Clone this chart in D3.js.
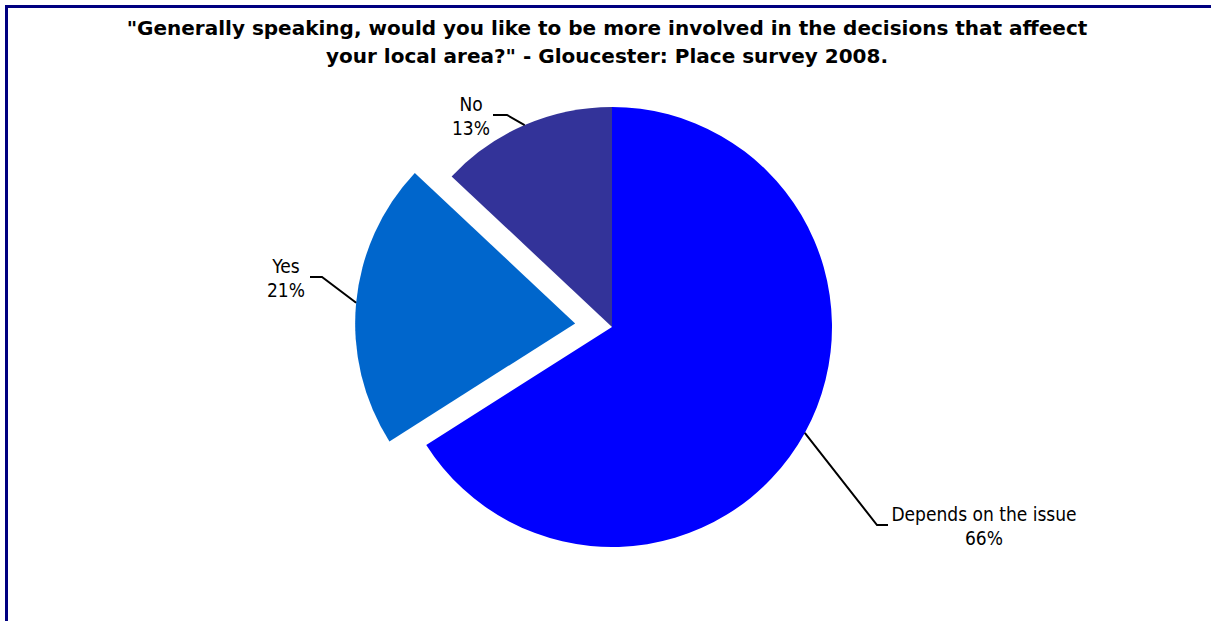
<!DOCTYPE html>
<html>
<head>
<meta charset="utf-8">
<script src="https://cdn.jsdelivr.net/npm/d3@7"></script>
<style>
  html, body { margin: 0; padding: 0; background: #fff; overflow: hidden; }
  svg { display: block; }
</style>
</head>
<body>
<svg id="chart" width="1211" height="621"></svg>
<script>
// Survey responses (percent of respondents)
const categories = ["Depends on the issue", "Yes", "No"];
const values = [66, 21, 13];
const percentLabels = ["66%", "21%", "13%"];
const sliceColors = ["#0000FF", "#0066CC", "#333399"];
const titleLines = [
  "\"Generally speaking, would you like to be more involved in the decisions that affeect",
  "your local area?\" - Gloucester: Place survey 2008."
];

const W = 1211, H = 621;
const cx = 612, cy = 327, radius = 220;
const explodeOffset = 37;          // the "Yes" slice is pulled out
const exploded = new Set(["Yes"]);

// Label elbows relative to the pie centre: where the leader line bends,
// how long its horizontal tail is, and where the label block is centred.
const labelLayout = {
  "Depends on the issue": { ex: 265, ey: 198, tail: 11, tx: 372 },
  "Yes": { ex: -290, ey: -50, tail: -12, tx: -326 },
  "No": { ex: -105, ey: -212, tail: -14, tx: -141 }
};

const svg = d3.select("#chart");
const labelFont = "Tahoma, 'DejaVu Sans Condensed', 'DejaVu Sans', sans-serif";
const titleFont = "Tahoma, 'DejaVu Sans', sans-serif";

// Chart frame
svg.append("rect")
  .attr("x", 6.5).attr("y", 6.5)
  .attr("width", W + 50).attr("height", H + 50)
  .attr("fill", "#fff")
  .attr("stroke", "#000080")
  .attr("stroke-width", 3);

// Title
svg.append("text")
  .attr("font-family", titleFont)
  .attr("font-weight", "bold")
  .attr("font-size", 20)
  .attr("text-anchor", "middle")
  .attr("fill", "#000")
  .selectAll("tspan")
  .data(titleLines)
  .join("tspan")
  .attr("x", 607)
  .attr("y", (d, i) => 35 + i * 28)
  .text(d => d);

const data = categories.map((c, i) => ({ category: c, value: values[i], label: percentLabels[i], color: sliceColors[i] }));

const pie = d3.pie().sort(null).value(d => d.value);
const arcs = pie(data);
const arc = d3.arc().innerRadius(0).outerRadius(radius);

const g = svg.append("g").attr("transform", `translate(${cx},${cy})`);

function offsetOf(a) {
  if (!exploded.has(a.data.category)) return [0, 0];
  const mid = (a.startAngle + a.endAngle) / 2;
  return [Math.sin(mid) * explodeOffset, -Math.cos(mid) * explodeOffset];
}

g.selectAll("path.slice")
  .data(arcs)
  .join("path")
  .attr("class", "slice")
  .attr("d", arc)
  .attr("fill", d => d.data.color)
  .attr("transform", d => { const [ox, oy] = offsetOf(d); return `translate(${ox},${oy})`; });

// Leader lines: from slice edge at its mid-angle, to the elbow, then a short horizontal tail
g.selectAll("path.leader")
  .data(arcs)
  .join("path")
  .attr("class", "leader")
  .attr("fill", "none")
  .attr("stroke", "#000")
  .attr("stroke-width", 2)
  .attr("d", d => {
    const mid = (d.startAngle + d.endAngle) / 2;
    const [ox, oy] = offsetOf(d);
    const sx = ox + Math.sin(mid) * radius, sy = oy - Math.cos(mid) * radius;
    const L = labelLayout[d.data.category];
    return d3.line()([[sx, sy], [L.ex, L.ey], [L.ex + L.tail, L.ey]]);
  });

// Data labels: category name over percentage
const labels = g.selectAll("text.label")
  .data(arcs)
  .join("text")
  .attr("class", "label")
  .attr("font-family", labelFont)
  .attr("font-size", 19)
  .attr("text-anchor", "middle")
  .attr("fill", "#000");

labels.append("tspan")
  .attr("x", d => labelLayout[d.data.category].tx)
  .attr("y", d => labelLayout[d.data.category].ey - 4)
  .text(d => d.data.category);
labels.append("tspan")
  .attr("x", d => labelLayout[d.data.category].tx)
  .attr("y", d => labelLayout[d.data.category].ey + 20)
  .text(d => d.data.label);
</script>
</body>
</html>
